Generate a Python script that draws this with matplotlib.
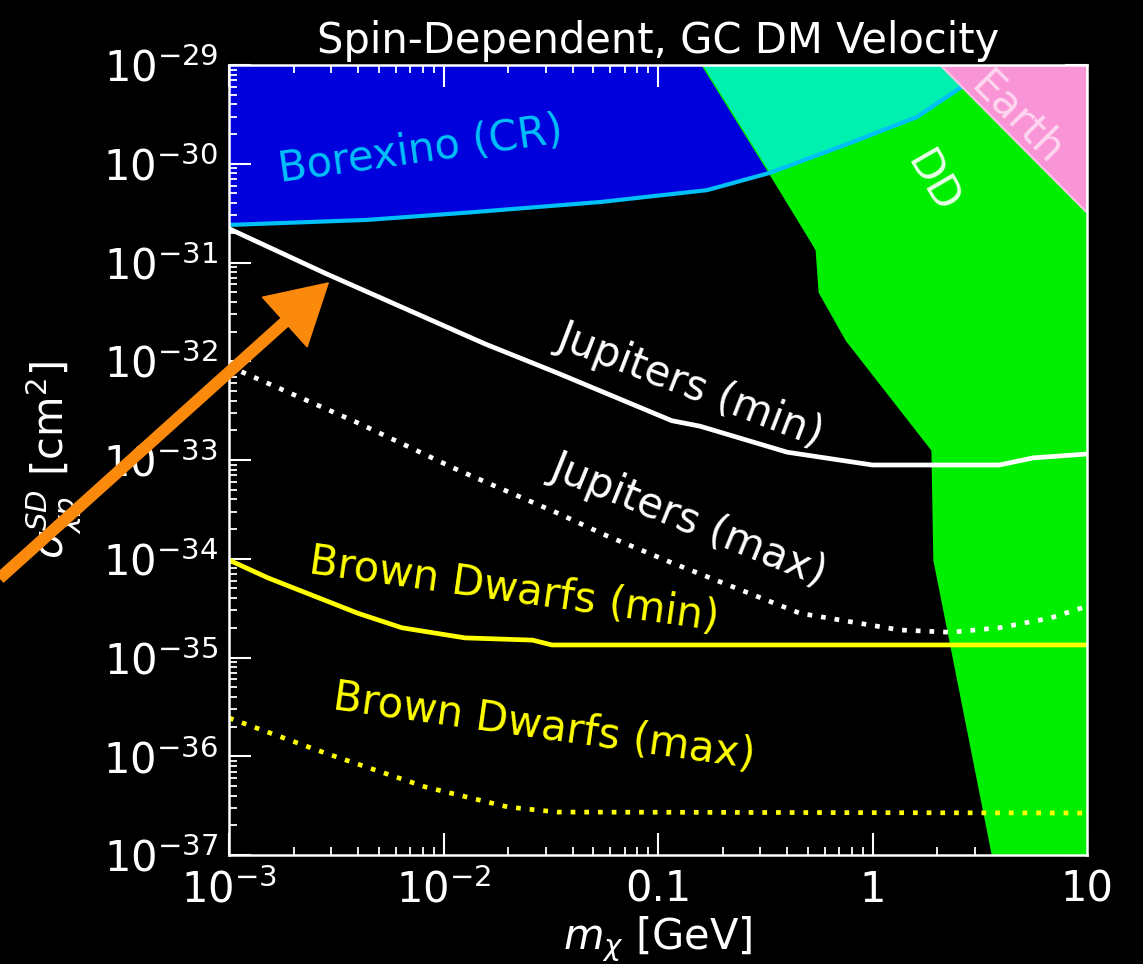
import matplotlib
matplotlib.use("Agg")
import matplotlib.pyplot as plt
import numpy as np

# ---- data -------------------------------------------------------------
# Jupiters, minimal and maximal sensitivity
jup_min_m = [1e-3, 2.8e-3, 1.56e-2, 3.4e-2, 0.116, 0.157, 0.40, 1.0, 3.9, 5.6, 10.0]
jup_min_s = [2.2e-31, 7.8e-32, 1.5e-32, 7.6e-33, 2.5e-33, 2.2e-33, 1.2e-33,
             8.9e-34, 8.9e-34, 1.05e-33, 1.15e-33]

jup_max_m = [1e-3, 4.0e-3, 1.17e-2, 3.4e-2, 5.8e-2, 0.116, 0.46, 1.34, 2.3, 3.9, 6.7, 10.0]
jup_max_s = [8.9e-33, 2.37e-33, 7.9e-34, 2.9e-34, 1.7e-34, 9.1e-35, 2.8e-35,
             1.9e-35, 1.8e-35, 2.0e-35, 2.5e-35, 3.3e-35]

# Brown dwarfs, minimal and maximal sensitivity
bd_min_m = [1e-3, 1.52e-3, 4.0e-3, 6.4e-3, 1.26e-2, 2.6e-2, 3.2e-2, 10.0]
bd_min_s = [9.7e-35, 6.4e-35, 2.8e-35, 2.0e-35, 1.58e-35, 1.5e-35, 1.34e-35, 1.34e-35]

bd_max_m = [1e-3, 2.8e-3, 8.2e-3, 2.0e-2, 3.4e-2, 10.0]
bd_max_s = [2.44e-36, 1.08e-36, 4.9e-37, 3.06e-37, 2.72e-37, 2.66e-37]

# Borexino (cosmic-ray boosted DM) exclusion, lower edge
bx_m = [1e-3, 4.4e-3, 1.29e-2, 5.4e-2, 0.169, 0.333, 0.785, 1.61, 2.56, 3.34]
bx_s = [2.4e-31, 2.7e-31, 3.2e-31, 4.1e-31, 5.4e-31, 8.1e-31, 1.62e-30,
        2.97e-30, 5.85e-30, 1e-29]

# Direct detection exclusion, low-mass edge
dd_m = [0.162, 0.333, 0.528, 0.551, 0.569, 0.76, 1.91, 1.95, 3.65]
dd_s = [1e-29, 8.1e-31, 1.57e-31, 1.34e-31, 5.0e-32, 1.64e-32, 1.26e-33, 9.7e-35, 1e-37]

# Earth heating exclusion, lower edge
earth_m = [2.07, 10.0]
earth_s = [1e-29, 3.2e-31]

x_range = (1e-3, 10.0)
y_range = (1e-37, 1e-29)
x_ticks = [1e-3, 1e-2, 0.1, 1.0, 10.0]
x_ticklabels = [r'$10^{-3}$', r'$10^{-2}$', '0.1', '1', '10']

# ---- style ------------------------------------------------------------
plt.rcParams['font.family'] = ['DejaVu Sans']
plt.rcParams['mathtext.fontset'] = 'dejavusans'
FS = 30

fig = plt.figure(figsize=(11.43, 9.64), dpi=100, facecolor='black')
ax = fig.add_axes([229 / 1143, 1 - 855 / 964, (1087 - 229) / 1143, (855 - 65) / 964])
ax.set_facecolor('black')
ax.set_xscale('log')
ax.set_yscale('log')
ax.set_xlim(*x_range)
ax.set_ylim(*y_range)

BLUE = '#0000dd'
CYAN = '#00c0f8'
GREEN = '#00ee00'
AQUA = '#00f0b0'
PINK = '#f995d6'
YELLOW = '#ffff00'
LW = 3.4

# Borexino region
xl, yl = x_range, y_range
bx_poly_x = list(bx_m) + [xl[0]]
bx_poly_y = list(bx_s) + [yl[1]]
ax.fill(bx_poly_x, bx_poly_y, color=BLUE, lw=0, zorder=1)

# Direct detection region
dd_poly_x = list(dd_m) + [xl[1], xl[1]]
dd_poly_y = list(dd_s) + [yl[0], yl[1]]
dd_patch = ax.fill(dd_poly_x, dd_poly_y, facecolor=GREEN, edgecolor=GREEN,
                   lw=2, zorder=2)[0]

# overlap of Borexino and direct detection
ov = ax.fill(bx_poly_x, bx_poly_y, color=AQUA, lw=0, zorder=3)[0]
ov.set_clip_path(dd_patch)

ax.plot(bx_m, bx_s, color=CYAN, lw=3.0, zorder=4, solid_capstyle='butt')

# Earth region
ax.fill(list(earth_m) + [xl[1]], list(earth_s) + [yl[1]], facecolor=PINK,
        edgecolor='#ffc4ea', lw=1.5, zorder=5)

# limit curves
dots = (0, (1.0, 1.9))
ax.plot(jup_min_m, jup_min_s, color='white', lw=LW, zorder=6)
ax.plot(jup_max_m, jup_max_s, color='white', lw=LW, ls=dots, zorder=6)
ax.plot(bd_min_m, bd_min_s, color=YELLOW, lw=LW, zorder=6)
ax.plot(bd_max_m, bd_max_s, color=YELLOW, lw=LW, ls=dots, zorder=6)

# labels in the plot
kw = dict(ha='center', va='center', fontsize=FS, zorder=7)
ax.text(7.8e-3, 1.38e-30, 'Borexino (CR)', color=CYAN, rotation=8, **kw)
ax.text(0.141, 5.75e-33, 'Jupiters (min)', color='white', rotation=-21, **kw)
ax.text(0.138, 2.47e-34, 'Jupiters (max)', color='white', rotation=-22, **kw)
ax.text(2.13e-2, 4.8e-35, 'Brown Dwarfs (min)', color=YELLOW, rotation=-8, **kw)
ax.text(2.94e-2, 1.98e-36, 'Brown Dwarfs (max)', color=YELLOW, rotation=-8, **kw)
ax.text(1.91, 6.4e-31, 'DD', color='#e8ffe8', rotation=-60, **kw)
ax.text(4.72, 2.84e-30, 'Earth', color='#ffd6f0', rotation=-45, **kw)

# axes decoration
for sp in ax.spines.values():
    sp.set_color('white')
    sp.set_linewidth(1.8)
    sp.set_zorder(8)
ax.tick_params(which='both', direction='in', top=True, right=True,
               colors='white', labelsize=FS, zorder=8)
ax.tick_params(which='major', length=16, width=1.5, pad=8)
ax.tick_params(which='minor', length=6, width=1.3)
ax.set_xticks(x_ticks)
ax.set_xticklabels(x_ticklabels)
ax.tick_params(axis='x', which='major', pad=10)
ax.set_yticks([10.0 ** e for e in range(-37, -28)])

ax.set_xlabel(r'$m_\chi$ [GeV]', color='white', fontsize=FS, labelpad=2)
ax.set_ylabel(r'$\sigma_{\chi p}^{SD}$ [cm$^2$]', color='white', fontsize=FS,
              labelpad=14)
ax.set_title('Spin-Dependent, GC DM Velocity', color='white', fontsize=FS, pad=9)

# highlight arrow
ax.annotate('', xy=(2.9e-3, 6.2e-32), xycoords='data',
            xytext=(0.0, 1 - 578 / 964), textcoords='figure fraction',
            arrowprops=dict(arrowstyle='simple,head_width=2.4,head_length=2.1,tail_width=0.38',
                            mutation_scale=20, color='#fb8a0c', shrinkA=0, shrinkB=0),
            annotation_clip=False, zorder=10)

fig.savefig('out.png', dpi=100, facecolor='black')
